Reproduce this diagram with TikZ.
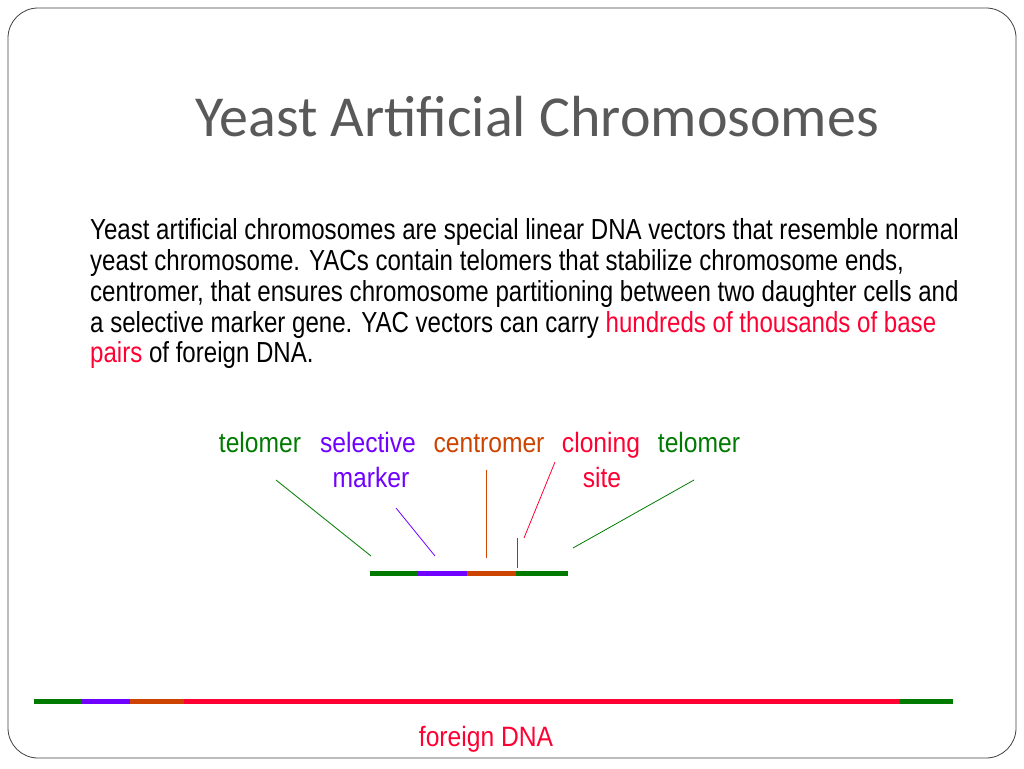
\documentclass[tikz,border=0pt]{standalone}
\usepackage{fontspec}
\setmainfont{Liberation Sans}
\newfontfamily\titlefont{Carlito}
\newfontfamily\narrow[FakeStretch=0.83]{Liberation Sans}
\newfontfamily\labfont[FakeStretch=0.88]{Liberation Sans}
\definecolor{tgreen}{HTML}{007A00}
\definecolor{tpurple}{HTML}{7000FF}
\definecolor{torange}{HTML}{CC4400}
\definecolor{tred}{HTML}{FF0033}
\definecolor{tgray}{HTML}{595959}
\begin{document}
\begin{tikzpicture}[x=1pt,y=-1pt,
  para/.style={anchor=base west,inner sep=0pt,font=\narrow\fontsize{29}{31}\selectfont},
  lab/.style={anchor=base,inner sep=0pt,font=\labfont\fontsize{28}{30}\selectfont},
  bar/.style={line width=5pt},
  thin/.style={line width=0.8pt}]
\useasboundingbox (0,0) rectangle (1024,768);
\draw[rounded corners=30pt,line width=0.8pt,black!75] (8,8) rectangle (1016,758);
\node[anchor=base,inner sep=0pt,text=tgray,font=\titlefont\fontsize{58}{64}\selectfont] (title) at (537,136) {Yeast Artificial Chromosomes};
\node[para] (l1) at (90,239) {Yeast artificial chromosomes are special linear DNA vectors that resemble normal};
\node[para] (l2) at (90,270) {yeast chromosome. YACs contain telomers that stabilize chromosome ends,};
\node[para] (l3) at (90,301) {centromer, that ensures chromosome partitioning between two daughter cells and};
\node[para] (l4) at (90,332) {a selective marker gene. YAC vectors can carry \textcolor{tred}{hundreds of thousands of base}};
\node[para] (l5) at (90,362) {\textcolor{tred}{pairs} of foreign DNA.};
\node[lab,text=tgreen] (t1) at (260,452) {telomer};
\node[lab,text=tpurple] (s1) at (368,452) {selective};
\node[lab,text=tpurple] (s2) at (371,487) {marker};
\node[lab,text=torange] (c1) at (489,452) {centromer};
\node[lab,text=tred] (k1) at (601,452) {cloning};
\node[lab,text=tred] (k2) at (602,487) {site};
\node[lab,text=tgreen] (t2) at (699,452) {telomer};
\coordinate (a1) at (276,480); \coordinate (a2) at (371,556);
\coordinate (b1) at (396,508); \coordinate (b2) at (435,556);
\coordinate (c3) at (486,470); \coordinate (c4) at (486,558);
\coordinate (d1) at (555,462); \coordinate (d2) at (524,538);
\coordinate (e1) at (517,538); \coordinate (e2) at (517,568);
\coordinate (f1) at (694,480); \coordinate (f2) at (573,548);
\draw[thin,tgreen] (a1)--(a2);
\draw[thin,tpurple] (b1)--(b2);
\draw[thin,torange] (c3)--(c4);
\draw[thin,tred] (d1)--(d2);
\draw[thin,tred] (e1)--(e2);
\draw[thin,tgreen] (f1)--(f2);
\draw[bar,tgreen] (370,573)--(418,573);
\draw[bar,tpurple] (418,573)--(467,573);
\draw[bar,torange] (467,573)--(516,573);
\draw[bar,tgreen] (516,573)--(568,573);
\draw[bar,tgreen] (34,701)--(82,701);
\draw[bar,tpurple] (82,701)--(130,701);
\draw[bar,torange] (130,701)--(184,701);
\draw[bar,tred] (184,701)--(900,701);
\draw[bar,tgreen] (900,701)--(953,701);
\node[lab,text=tred] (fd) at (486,746) {foreign DNA};
\end{tikzpicture}
\end{document}
